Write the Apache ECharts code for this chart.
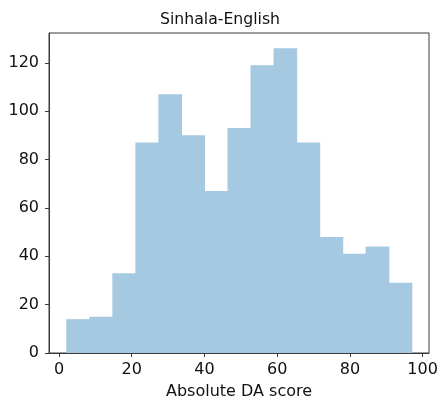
<!DOCTYPE html>
<html>
<head>
<meta charset="utf-8">
<script src="https://cdn.jsdelivr.net/npm/echarts@6/dist/echarts.min.js"></script>
<style>
  html, body { margin: 0; padding: 0; background: #fff; }
  #chart { width: 440px; height: 400px; }
</style>
</head>
<body>
<div id="chart"></div>
<script>
// Histogram of absolute DA scores, Sinhala-English
const binEdges = [2.0, 8.33, 14.67, 21.0, 27.33, 33.67, 40.0, 46.33, 52.67, 59.0, 65.33, 71.67, 78.0, 84.33, 90.67, 97.0];
const binCounts = [14, 15, 33, 87, 107, 90, 67, 93, 119, 126, 87, 48, 41, 44, 29];
const xTicks = [0, 20, 40, 60, 80, 100];
const yTicks = [0, 20, 40, 60, 80, 100, 120];

const bins = binCounts.map((c, i) => [binEdges[i], binEdges[i + 1], c]);

const font = 'DejaVu Sans';
const ink = '#111111';
const spine = '#3a3a3a';
const barFill = '#a5c9e1';

const chart = echarts.init(document.getElementById('chart'), null, { renderer: 'canvas' });
chart.setOption({
  animation: false,
  backgroundColor: '#ffffff',
  title: {
    text: 'Sinhala-English',
    left: 'center',
    top: 7,
    textStyle: { fontFamily: font, fontSize: 15.7, fontWeight: 'normal', color: ink }
  },
  grid: {
    left: 49, right: 11, top: 33, bottom: 47,
    outerBoundsMode: 'none',
    containLabel: false,
    show: true, borderColor: spine, borderWidth: 1, backgroundColor: 'transparent'
  },
  xAxis: {
    type: 'value',
    min: -2.75,
    max: 101.75,
    name: 'Absolute DA score',
    nameLocation: 'middle',
    nameGap: 31,
    nameTextStyle: { fontFamily: font, fontSize: 16, color: ink },
    splitLine: { show: false },
    axisLine: { show: true, onZero: false, lineStyle: { color: spine, width: 1 } },
    axisTick: { show: true, inside: false, length: 4, customValues: xTicks, lineStyle: { color: spine } },
    axisLabel: { fontFamily: font, fontSize: 16, color: ink, margin: 9, customValues: xTicks }
  },
  yAxis: {
    type: 'value',
    min: 0,
    max: 132.3,
    splitLine: { show: false },
    axisLine: { show: true, onZero: false, lineStyle: { color: spine, width: 1 } },
    axisTick: { show: true, inside: false, length: 4, customValues: yTicks, lineStyle: { color: spine } },
    axisLabel: { fontFamily: font, fontSize: 16, color: ink, margin: 10, customValues: yTicks }
  },
  series: [{
    type: 'custom',
    z: 1,
    data: bins,
    encode: { x: [0, 1], y: 2 },
    renderItem: function (params, api) {
      const p0 = api.coord([api.value(0), 0]);
      const p1 = api.coord([api.value(1), api.value(2)]);
      // slight overlap so adjacent bins meet without a seam
      return {
        type: 'rect',
        shape: { x: p0[0], y: p1[1], width: p1[0] - p0[0] + 0.6, height: p0[1] - p1[1] },
        style: { fill: barFill }
      };
    }
  }]
});
</script>
</body>
</html>
